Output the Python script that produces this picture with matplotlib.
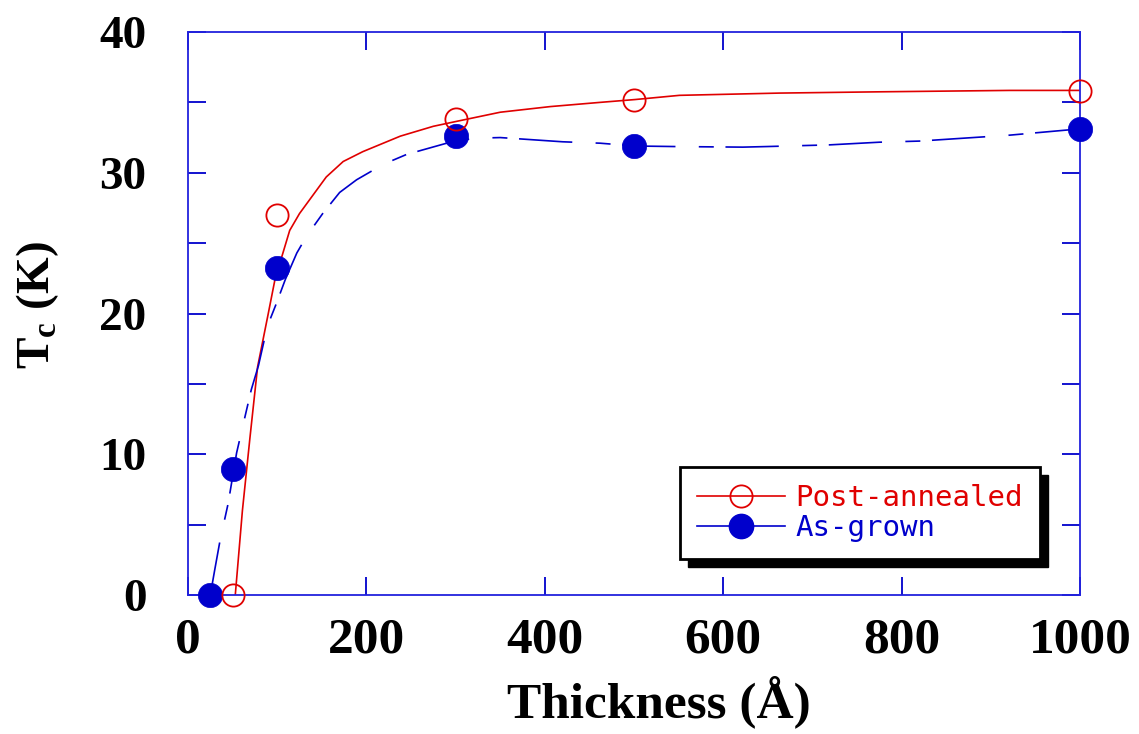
import matplotlib
matplotlib.use("Agg")
import matplotlib.pyplot as plt
from matplotlib.lines import Line2D
from matplotlib.patches import Rectangle
from matplotlib.transforms import IdentityTransform

# ---- data ----
thick_pa = [50, 100, 300, 500, 1000]
tc_pa = [0.0, 27.0, 33.8, 35.2, 35.8]

thick_ag = [25, 50, 100, 300, 500, 1000]
tc_ag = [0.0, 8.95, 23.2, 32.6, 31.9, 33.1]

# smooth guide curves
curve_pa_x = [53, 61, 69.5, 78, 90, 99, 105, 114, 125, 140, 155, 174, 196, 238,
              275, 301, 350, 406, 462, 501, 551, 663, 775, 921, 1000]
curve_pa_y = [0.0, 6.0, 11.2, 16.2, 20.0, 22.9, 24.0, 25.9, 27.1, 28.4, 29.7, 30.8,
              31.5, 32.6, 33.3, 33.65, 34.3, 34.7, 35.0, 35.2, 35.5, 35.66, 35.75,
              35.85, 35.85]

curve_ag_x = [25, 30, 36, 45, 54.5, 64, 71, 79, 89, 99, 109, 122, 133, 151, 170,
              189, 219, 245, 290, 320, 350, 420, 462, 501, 548, 622, 648, 719, 775,
              820, 921, 988, 1000]
curve_ag_y = [0.0, 1.8, 3.9, 6.5, 10.1, 12.7, 14.6, 16.3, 19.1, 20.7, 22.4, 24.3,
              25.5, 27.1, 28.6, 29.5, 30.6, 31.3, 32.1, 32.45, 32.5, 32.2, 32.1,
              31.9, 31.86, 31.82, 31.86, 31.98, 32.17, 32.25, 32.67, 33.05, 33.1]

xticks = [0, 200, 400, 600, 800, 1000]
yticks = [0, 10, 20, 30, 40]
labels = ["Post-annealed", "As-grown"]

RED = "#E00000"
BLUE = "#0000CC"
AXC = "#2222DD"

plt.rcParams["mathtext.fontset"] = "custom"
plt.rcParams["mathtext.rm"] = "Liberation Serif:bold"
plt.rcParams["mathtext.bf"] = "Liberation Serif:bold"

fig = plt.figure(figsize=(11.39, 7.34), dpi=100)
ax = fig.add_axes([188 / 1139, 1 - 595 / 734, 892 / 1139, 563 / 734])

ax.plot(curve_pa_x, curve_pa_y, color=RED, lw=1.2, zorder=2)
ax.plot(curve_ag_x, curve_ag_y, color=BLUE, lw=1.2, ls=(0, (32, 14, 9, 7)), zorder=2)

ax.plot(thick_pa, tc_pa, ls="none", marker="o", ms=16, mfc="none", mec=RED,
        mew=1.3, clip_on=False, zorder=4)
ax.plot(thick_ag, tc_ag, ls="none", marker="o", ms=17.5, mfc=BLUE, mec=BLUE,
        mew=0.5, clip_on=False, zorder=3)

ax.set_xlim(0, 1000)
ax.set_ylim(0, 40)
ax.set_xticks(xticks)
ax.set_yticks(yticks)
ax.set_yticks([5, 15, 25, 35], minor=True)

for s in ax.spines.values():
    s.set_color(AXC)
    s.set_linewidth(1.3)

ax.tick_params(which="both", direction="in", top=True, right=True, color=BLUE,
               width=1.3, length=13)
ax.tick_params(axis="x", pad=16)
ax.tick_params(axis="y", pad=30)

for t in ax.get_xticklabels():
    t.set_fontfamily("Liberation Serif")
    t.set_fontweight("bold")
    t.set_fontsize(37)
for t in ax.get_yticklabels():
    t.set_fontfamily("Liberation Serif")
    t.set_fontweight("bold")
    t.set_fontsize(34)

ax.set_xlabel("Thickness (Å)", fontfamily="Liberation Serif", fontweight="bold",
              fontsize=37)
ax.xaxis.set_label_coords((659 - 188) / 892, (595 - 702) / 563)
ax.xaxis.label.set_va("center")
ax.set_ylabel(r"T$_{\rm c}$ (K)", fontfamily="Liberation Serif",
              fontweight="bold", fontsize=34)
ax.yaxis.set_label_coords((38 - 188) / 892, (595 - 305) / 563)
ax.yaxis.label.set_va("center")

h1 = Line2D([], [], color=RED, lw=1.2, marker="o", ms=16, mfc="none", mec=RED, mew=1.3)
h2 = Line2D([], [], color=BLUE, lw=1.2, marker="o", ms=17.5, mfc=BLUE, mec=BLUE)
leg = ax.legend([h1, h2], labels, loc="upper left",
                bbox_to_anchor=(680 / 1139, 1 - 467 / 734),
                bbox_transform=fig.transFigure,
                prop={"family": "DejaVu Sans Mono", "size": 21},
                handlelength=3.0, handletextpad=0.35, labelspacing=0.05,
                borderpad=0.6, borderaxespad=0.0, fancybox=False,
                framealpha=1, edgecolor="black")
leg.get_frame().set_linewidth(2.0)
leg.set_zorder(6)
leg.get_texts()[0].set_color(RED)
leg.get_texts()[1].set_color(BLUE)

fig.canvas.draw()
bb = leg.get_window_extent()
shadow = Rectangle((bb.x0 + 8, bb.y0 - 8), bb.width, bb.height,
                   transform=IdentityTransform(), facecolor="black",
                   edgecolor="black", zorder=5.5, clip_on=False)
ax.add_artist(shadow)

fig.savefig("out.png", dpi=100)
